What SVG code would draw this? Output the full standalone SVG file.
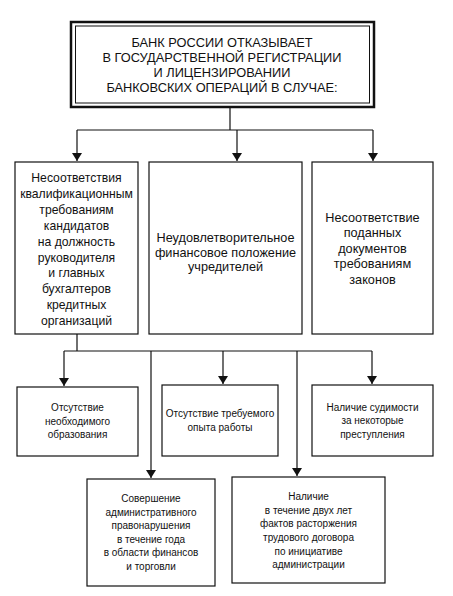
<svg xmlns="http://www.w3.org/2000/svg" width="453" height="596" viewBox="0 0 453 596">
<defs>
<marker id="ah" markerWidth="8" markerHeight="10" refX="8" refY="5" orient="auto" markerUnits="userSpaceOnUse">
<path d="M0,0 L8,5 L0,10 Z" fill="#111"/>
</marker>
<style>
.b{fill:#fff;stroke:#111;stroke-width:1.2}
.t{font-family:"Liberation Sans",Arial,sans-serif;fill:#111;text-anchor:middle}
.h{font-size:12.8px}
.m{font-size:12.7px}
.m1{font-size:12.2px}
.s{font-size:10px}
.c{fill:none;stroke:#111;stroke-width:1.2}
</style>
</defs>
<rect width="453" height="596" fill="#fff"/>
<g id="connectors">
<path class="c" d="M230,107 V130 M77,130 H373"/>
<path class="c" d="M77,130 V161" marker-end="url(#ah)"/>
<path class="c" d="M237,130 V161" marker-end="url(#ah)"/>
<path class="c" d="M373,130 V161" marker-end="url(#ah)"/>
<path class="c" d="M77,334 V351 M64,351 H372"/>
<path class="c" d="M64,351 V386" marker-end="url(#ah)"/>
<path class="c" d="M223,351 V384" marker-end="url(#ah)"/>
<path class="c" d="M372,351 V384" marker-end="url(#ah)"/>
<path class="c" d="M151,351 V478" marker-end="url(#ah)"/>
<path class="c" d="M297,351 V476" marker-end="url(#ah)"/>
</g>
<g id="top">
<rect x="71" y="22" width="303" height="85" fill="#fff" stroke="#111" stroke-width="2.5"/>
<rect x="75.5" y="26" width="294" height="77" fill="none" stroke="#111" stroke-width="1"/>
<text class="t h" x="222" y="47">БАНК РОССИИ ОТКАЗЫВАЕТ</text>
<text class="t h" x="222" y="62">В ГОСУДАРСТВЕННОЙ РЕГИСТРАЦИИ</text>
<text class="t h" x="222" y="77">И ЛИЦЕНЗИРОВАНИИ</text>
<text class="t h" x="222" y="92">БАНКОВСКИХ ОПЕРАЦИЙ В СЛУЧАЕ:</text>
</g>
<g id="n1">
<rect class="b" x="15" y="162" width="123" height="172"/>
<text class="t m1" x="76.5" y="182">Несоответствия</text>
<text class="t m1" x="76.5" y="198">квалификационным</text>
<text class="t m1" x="76.5" y="214">требованиям</text>
<text class="t m1" x="76.5" y="230">кандидатов</text>
<text class="t m1" x="76.5" y="246">на должность</text>
<text class="t m1" x="76.5" y="262">руководителя</text>
<text class="t m1" x="76.5" y="277">и главных</text>
<text class="t m1" x="76.5" y="293">бухгалтеров</text>
<text class="t m1" x="76.5" y="309">кредитных</text>
<text class="t m1" x="76.5" y="325">организаций</text>
</g>
<g id="n2">
<rect class="b" x="149" y="162" width="153" height="172"/>
<text class="t m" x="225.5" y="242">Неудовлетворительное</text>
<text class="t m" x="225.5" y="257">финансовое положение</text>
<text class="t m" x="225.5" y="271">учредителей</text>
</g>
<g id="n3">
<rect class="b" x="312" y="162" width="121" height="172"/>
<text class="t m" x="372.5" y="222">Несоответствие</text>
<text class="t m" x="372.5" y="237">поданных</text>
<text class="t m" x="372.5" y="253">документов</text>
<text class="t m" x="372.5" y="268">требованиям</text>
<text class="t m" x="372.5" y="284">законов</text>
</g>
<g id="n4">
<rect class="b" x="17" y="387" width="121" height="69"/>
<text class="t s" x="77.5" y="411">Отсутствие</text>
<text class="t s" x="77.5" y="425">необходимого</text>
<text class="t s" x="77.5" y="438">образования</text>
</g>
<g id="n5">
<rect class="b" x="162" y="385" width="116" height="71"/>
<text class="t s" x="220" y="417">Отсутствие требуемого</text>
<text class="t s" x="220" y="431">опыта работы</text>
</g>
<g id="n6">
<rect class="b" x="312" y="385" width="121" height="71"/>
<text class="t s" x="372.5" y="411">Наличие судимости</text>
<text class="t s" x="372.5" y="424">за некоторые</text>
<text class="t s" x="372.5" y="438">преступления</text>
</g>
<g id="n7">
<rect class="b" x="87" y="479" width="128" height="107"/>
<text class="t s" x="151" y="502">Совершение</text>
<text class="t s" x="151" y="516">административного</text>
<text class="t s" x="151" y="529">правонарушения</text>
<text class="t s" x="151" y="543">в течение года</text>
<text class="t s" x="151" y="556">в области финансов</text>
<text class="t s" x="151" y="570">и торговли</text>
</g>
<g id="n8">
<rect class="b" x="232" y="477" width="153" height="106"/>
<text class="t s" x="308.5" y="500">Наличие</text>
<text class="t s" x="308.5" y="514">в течение двух лет</text>
<text class="t s" x="308.5" y="527">фактов расторжения</text>
<text class="t s" x="308.5" y="541">трудового договора</text>
<text class="t s" x="308.5" y="555">по инициативе</text>
<text class="t s" x="308.5" y="568">администрации</text>
</g>
</svg>
